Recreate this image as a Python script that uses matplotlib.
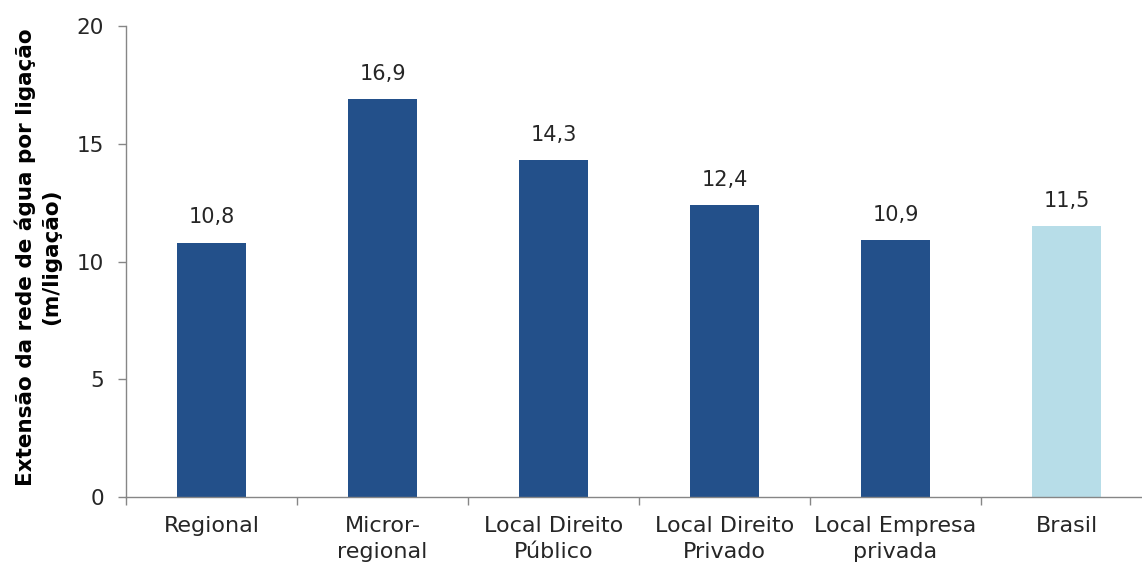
import matplotlib
matplotlib.use("Agg")
import matplotlib.pyplot as plt
import numpy as np

categories = ["Regional", "Micror-\nregional", "Local Direito\nPúblico",
              "Local Direito\nPrivado", "Local Empresa\nprivada", "Brasil"]
values = [10.8, 16.9, 14.3, 12.4, 10.9, 11.5]
value_labels = ["10,8", "16,9", "14,3", "12,4", "10,9", "11,5"]
colors = ["#23508A", "#23508A", "#23508A", "#23508A", "#23508A", "#B7DDE8"]
y_ticks = [0, 5, 10, 15, 20]

plt.rcParams['font.family'] = ['DejaVu Sans']

fig = plt.figure(figsize=(11.42, 5.69), dpi=100)
ax = fig.add_axes([126/1142, 72/569, 1026/1142, 471/569])

x = np.arange(len(categories))
ax.bar(x, values, width=0.4, color=colors, zorder=2)
for xi, v, lab in zip(x, values, value_labels):
    ax.annotate(lab, (xi, v), xytext=(0, 11), textcoords="offset points",
                ha="center", va="bottom", fontsize=15, color="#262626")

ax.set_xlim(-0.5, len(categories) - 0.5)
ax.set_ylim(0, 20)
ax.set_yticks(y_ticks)
ax.set_yticklabels([str(t) for t in y_ticks], fontsize=15.5, color="#262626")

ax.set_xticks(np.arange(len(categories) + 1) - 0.5)
ax.set_xticklabels([])
ax.set_xticks(x, minor=True)
ax.set_xticklabels(categories, minor=True, fontsize=16, color="#262626",
                   linespacing=1.32)
ax.tick_params(axis='x', which='minor', length=0, pad=14)
ax.tick_params(axis='x', which='major', length=6, color="#868686", width=1)
ax.tick_params(axis='y', length=6, color="#868686", width=1, pad=10)

for s in ["top", "right"]:
    ax.spines[s].set_visible(False)
for s in ["left", "bottom"]:
    ax.spines[s].set_color("#868686")
    ax.spines[s].set_linewidth(1)

ax.set_ylabel("Extensão da rede de água por ligação\n(m/ligação)", fontsize=15.5,
              fontweight="bold", color="black", labelpad=8, linespacing=1.35)
ax.yaxis.set_label_coords(-0.063, 0.51)

fig.savefig("out.png", dpi=100)
